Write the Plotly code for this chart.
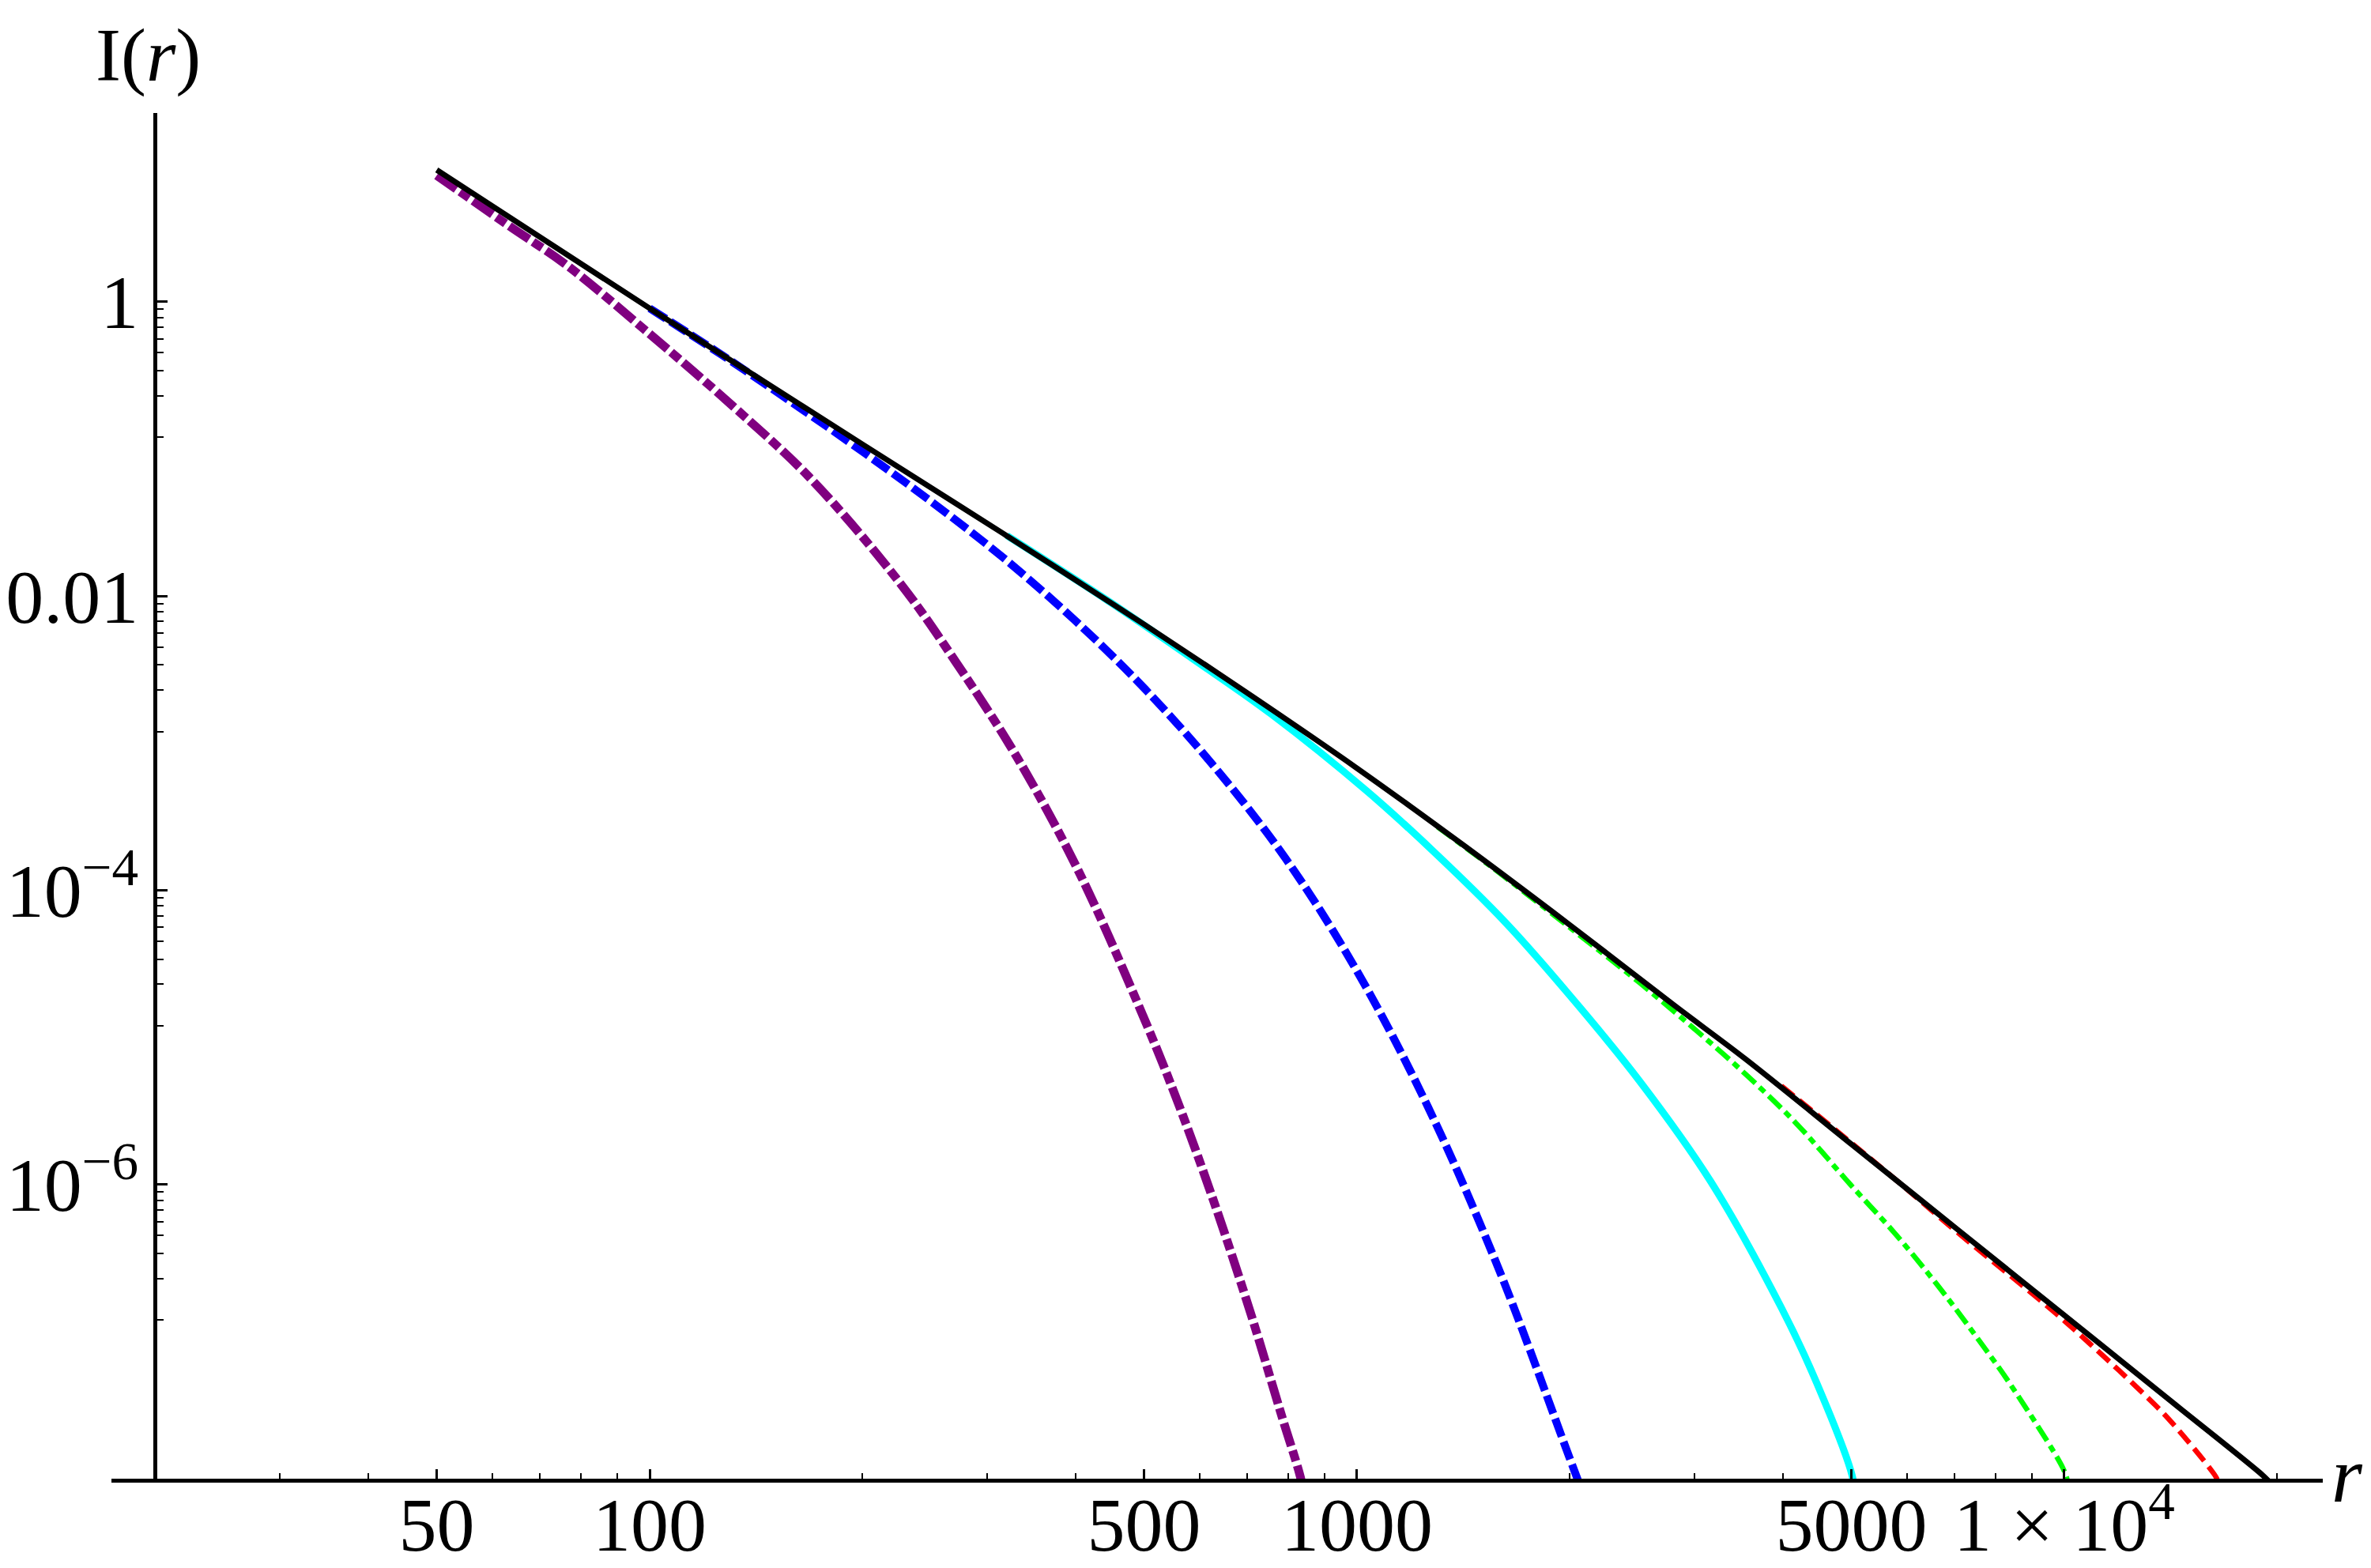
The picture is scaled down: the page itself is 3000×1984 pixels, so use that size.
import plotly.graph_objects as go

# values (log-log axes)
r_black = [50, 100, 199.5, 316.2, 501.2, 707.9, 1000, 1413, 1995, 2818, 3548, 5012, 7079, 10000, 14125, 19055, 19500]
I_black = [7.87, 0.902, 0.1081, 0.02655, 6.37e-3, 2.11e-3, 6.75e-4, 2.03e-4, 5.85e-5, 1.63e-5,
           7.08e-6, 1.86e-6, 4.90e-7, 1.29e-7, 3.39e-8, 1.06e-8, 9.5e-9]

r_purple = [50, 63.1, 76.6, 98.6, 131.5, 169.4, 226.5, 271, 331, 403, 498, 560, 631, 710, 780, 832, 840]
I_purple = [7.23, 3.31, 1.75, 0.64, 0.193, 0.0619, 0.01205, 3.55e-3, 7.94e-4, 1.38e-4, 1.41e-5,
            3.47e-6, 7.08e-7, 1.26e-7, 2.82e-8, 1.02e-8, 8e-9]

r_blue = [100, 125.9, 158.5, 199.5, 251.2, 316.2, 398.1, 501.2, 631, 794.3, 1000, 1259, 1585, 1995, 2089]
I_blue = [0.902, 0.4416, 0.2089, 0.0966, 0.04315, 0.0182, 6.92e-3, 2.34e-3, 6.76e-4, 1.62e-4,
          2.82e-5, 3.39e-6, 2.69e-7, 1.41e-8, 7.8e-9]

r_cyan = [320, 447, 583, 755, 1035, 1279, 1622, 1995, 2512, 3162, 3981, 4467, 5012, 5050]
I_cyan = [0.0257, 9.12e-3, 3.80e-3, 1.585e-3, 4.68e-4, 1.86e-4, 6.03e-5, 1.95e-5, 5.01e-6,
          1.05e-6, 1.45e-7, 4.47e-8, 1.05e-8, 8e-9]

r_green = [1300, 1538, 1995, 2512, 3013, 3540, 4188, 4989, 5754, 6653, 7656, 8375, 9954, 10116]
I_green = [2.69e-4, 1.48e-4, 5.62e-5, 2.34e-5, 1.12e-5, 5.64e-6, 2.57e-6, 9.93e-7, 4.68e-7,
           2.00e-7, 8.13e-8, 4.43e-8, 1.18e-8, 9.5e-9]

r_red = [3981, 5623, 7079, 9727, 11169, 12503, 14028, 16293, 16520]
I_red = [4.68e-6, 1.20e-6, 4.68e-7, 1.33e-7, 7.33e-8, 4.43e-8, 2.56e-8, 1.07e-8, 9.5e-9]

x_ticks = [50, 100, 500, 1000, 5000, 10000]
x_labels = ["50", "100", "500", "1000", "5000", "1 \u00d7 10<sup>4</sup>"]
x_minor = [20, 30, 40, 60, 70, 80, 90, 200, 300, 400, 600, 700, 800, 900,
           2000, 3000, 4000, 6000, 7000, 8000, 9000, 20000]

y_ticks = [1, 0.01, 1e-4, 1e-6]
y_labels = ["1", "0.01", "10<sup>\u22124</sup>", "10<sup>\u22126</sup>"]
# mathematica splits each two-decade gap linearly into 9 parts
y_minor = []
for hi in [1, 0.01, 1e-4, 1e-6]:
    lo = hi / 100
    y_minor += [lo + k * (hi - lo) / 9 for k in range(1, 9)]

FONT = "Liberation Serif"

curves = [
    (r_purple, I_purple, "#800080", 11, "30px,6px,14px,6px"),
    (r_blue, I_blue, "#0000ff", 10, "24px,7px"),
    (r_cyan, I_cyan, "#00ffff", 9, "solid"),
    (r_green, I_green, "#00ff00", 6.5, "22px,7px,9px,7px"),
    (r_red, I_red, "#ff0000", 6.5, "20px,9px"),
    (r_black, I_black, "#000000", 7, "solid"),
]

fig = go.Figure()
for r, I, col, w, dash in curves:
    fig.add_trace(go.Scatter(x=r, y=I, mode="lines",
                             line=dict(color=col, width=w, dash=dash, shape="spline", smoothing=1.0),
                             showlegend=False, hoverinfo="skip"))

W, H = 3000, 1984
L, R, T, B = 133, 69, 135, 121
x_lo, x_hi = 1.2391, 4.3654
y_lo, y_hi = -8.0, 1.2829
ypos = (1.30103 - x_lo) / (x_hi - x_lo)

fig.update_layout(
    width=W, height=H,
    margin=dict(l=L, r=R, t=T, b=B, pad=0, autoexpand=False),
    plot_bgcolor="white", paper_bgcolor="white",
    font=dict(family=FONT, color="black", size=96),
    xaxis=dict(type="log", range=[x_lo, x_hi], showgrid=False, zeroline=False, automargin=False,
               showline=True, linecolor="black", linewidth=5,
               ticks="inside", ticklen=12, tickwidth=3, tickcolor="black",
               tickvals=x_ticks, ticktext=x_labels, ticklabelstandoff=-29,
               tickfont=dict(family=FONT, size=96, color="black"),
               minor=dict(tickvals=x_minor, ticks="inside", ticklen=7, tickwidth=2,
                          tickcolor="black", showgrid=False)),
    yaxis=dict(type="log", range=[y_lo, y_hi], showgrid=False, zeroline=False, automargin=False,
               anchor="free", position=ypos,
               showline=True, linecolor="black", linewidth=5,
               ticks="inside", ticklen=13, tickwidth=3, tickcolor="black",
               tickvals=y_ticks, ticktext=y_labels, ticklabelstandoff=0,
               tickfont=dict(family=FONT, size=96, color="black"),
               minor=dict(tickvals=y_minor, ticks="inside", ticklen=8, tickwidth=2,
                          tickcolor="black", showgrid=False)),
)

pw, ph = W - L - R, H - T - B
fig.add_annotation(x=(179 - L) / pw, y=(H - B - 62) / ph, xref="paper", yref="paper",
                   text="I(<i>r</i>)", showarrow=False, xanchor="center", yanchor="middle",
                   font=dict(family=FONT, size=96, color="black"))
fig.add_annotation(x=(2940 - L) / pw, y=(H - B - 1858) / ph, xref="paper", yref="paper",
                   text="<i>r</i>", showarrow=False, xanchor="left", yanchor="middle",
                   font=dict(family=FONT, size=100, color="black"))

fig.write_html("out.html")
